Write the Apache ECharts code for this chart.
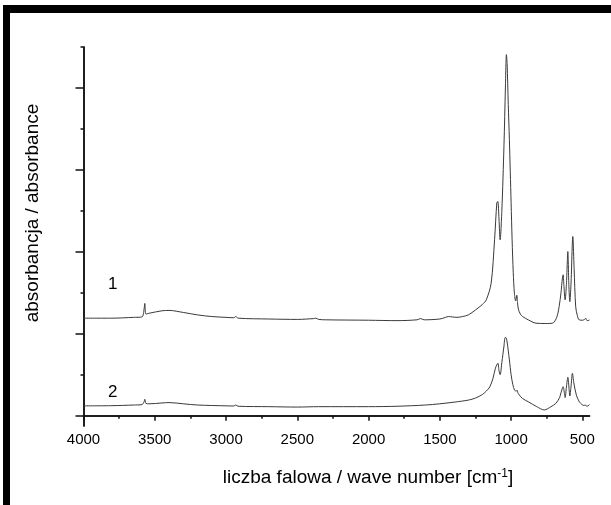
<!DOCTYPE html>
<html><head><meta charset="utf-8">
<script src="https://cdn.jsdelivr.net/npm/echarts@6/dist/echarts.min.js"></script>
<style>html,body{margin:0;padding:0;background:#fff}#c{width:611px;height:505px}</style>
</head><body><div id="c"></div>
<script>
// Spectrum 1 (upper)
const wn1 = [4000,3800,3650,3590,3575,3570,3562,3540,3450,3400,3300,3200,3100,3000,2945,2932,2915,2700,2500,2385,2370,2350,2300,2000,1800,1660,1635,1610,1500,1460,1440,1410,1380,1340,1300,1250,1200,1174,1140,1116,1100,1093,1085,1077,1065,1050,1040,1033,1028,1020,1012,1000,993,985,977,968,960,955,949,935,919,880,826,760,709,680,663,650,640,635,630,621,612,602,595,588,580,567,558,547,535,523,500,485,477,470,460,450];
const abs1 = [1.19,1.19,1.2,1.205,1.3,1.37,1.24,1.25,1.28,1.285,1.26,1.23,1.21,1.2,1.195,1.21,1.19,1.18,1.175,1.185,1.19,1.175,1.17,1.165,1.16,1.17,1.185,1.17,1.18,1.2,1.21,1.205,1.2,1.21,1.23,1.29,1.36,1.414,1.617,2.147,2.6,2.615,2.4,2.147,2.5,3.3,4.0,4.407,4.3,3.8,3.368,2.6,2.147,1.75,1.495,1.4,1.47,1.38,1.3,1.24,1.21,1.17,1.129,1.125,1.129,1.2,1.332,1.5,1.68,1.719,1.6,1.414,1.6,2.004,1.6,1.393,1.6,2.187,1.8,1.33,1.22,1.17,1.165,1.175,1.19,1.165,1.16,1.17];
// Spectrum 2 (lower)
const wn2 = [4000,3800,3650,3590,3575,3570,3562,3540,3450,3400,3300,3200,3000,2945,2932,2915,2700,2500,2350,2000,1800,1600,1500,1400,1300,1250,1200,1174,1150,1128,1110,1093,1085,1077,1065,1050,1042,1035,1028,1012,1000,988,975,962,958,950,920,880,820,767,720,686,660,650,635,625,621,612,602,592,588,580,570,560,542,525,512,490,477,470,460,450];
const abs2 = [0.12,0.122,0.13,0.135,0.17,0.2,0.15,0.145,0.155,0.16,0.145,0.13,0.12,0.118,0.13,0.115,0.11,0.105,0.11,0.11,0.115,0.13,0.145,0.165,0.19,0.215,0.26,0.3,0.35,0.45,0.58,0.64,0.55,0.5,0.65,0.85,0.953,0.95,0.9,0.68,0.5,0.38,0.31,0.3,0.31,0.27,0.21,0.17,0.11,0.07,0.11,0.15,0.22,0.28,0.354,0.26,0.22,0.35,0.469,0.3,0.24,0.35,0.518,0.4,0.25,0.18,0.15,0.125,0.13,0.115,0.12,0.135];
const xMajor = [4000,3500,3000,2500,2000,1500,1000,500];
const xMinor = [3750,3250,2750,2250,1750,1250,750];
const yMajor = [0,1,2,3,4];
const yMinor = [0.5,1.5,2.5,3.5,4.5];
const seriesNames = ['1','2'];

const chart = echarts.init(document.getElementById('c'), null, {renderer:'canvas'});
const FONT = '"Liberation Sans", Arial, sans-serif';
const lineCol = '#111';
const xBase = {type:'value', min:450, max:4000, inverse:true, position:'bottom',
  axisLine:{show:true, lineStyle:{color:lineCol, width:1.5}}, splitLine:{show:false}};
const yBase = {type:'value', min:-0.126, max:4.5, position:'left',
  axisLine:{show:true, lineStyle:{color:lineCol, width:1.5}}, splitLine:{show:false}, axisLabel:{show:false}};
chart.setOption({
  animation:false,
  backgroundColor:'#fff',
  grid:{left:83.5, right:21.5, top:47, bottom:79, containLabel:false},
  xAxis:[
    Object.assign({}, xBase, {
      axisTick:{show:true, inside:false, length:5, customValues:xMajor, lineStyle:{color:lineCol, width:1.5}},
      axisLabel:{show:true, customValues:xMajor, formatter:v=>String(v), color:'#000', fontSize:15, fontFamily:FONT, margin:6}
    }),
    Object.assign({}, xBase, {
      axisTick:{show:true, inside:false, length:3, customValues:xMinor, lineStyle:{color:lineCol, width:1.5}},
      axisLabel:{show:false}
    })
  ],
  yAxis:[
    Object.assign({}, yBase, {
      axisTick:{show:true, inside:false, length:8, customValues:yMajor, lineStyle:{color:lineCol, width:1.5}}
    }),
    Object.assign({}, yBase, {
      axisTick:{show:true, inside:false, length:3, customValues:yMinor, lineStyle:{color:lineCol, width:1.5}}
    })
  ],
  series:[
    {name:seriesNames[0], type:'line', xAxisIndex:0, yAxisIndex:0, showSymbol:false, symbol:'none', smooth:0.3,
     lineStyle:{color:'#3a3a3a', width:1}, data: wn1.map((w,i)=>[w,abs1[i]])},
    {name:seriesNames[1], type:'line', xAxisIndex:0, yAxisIndex:0, showSymbol:false, symbol:'none', smooth:0.3,
     lineStyle:{color:'#3a3a3a', width:1}, data: wn2.map((w,i)=>[w,abs2[i]])}
  ],
  graphic:[
    {type:'rect', shape:{x:3, y:5, width:608, height:8}, style:{fill:'#000'}},
    {type:'rect', shape:{x:3, y:5, width:7, height:500}, style:{fill:'#000'}},
    {type:'text', x:108, y:276, style:{text:seriesNames[0], font:'17px '+FONT, fill:'#000'}},
    {type:'text', x:108, y:384, style:{text:seriesNames[1], font:'17px '+FONT, fill:'#000'}},
    {type:'text', x:33, y:213, rotation:Math.PI/2, style:{text:'absorbancja / absorbance', font:'19px '+FONT, fill:'#000', align:'center', verticalAlign:'middle'}},
    {type:'text', x:368, y:478, style:{
      text:'liczba falowa / wave number [cm{s|-1}]', font:'19px '+FONT, fill:'#000', align:'center', verticalAlign:'middle',
      rich:{s:{fontSize:12, fontFamily:FONT, verticalAlign:'top', padding:[0,0,9,0]}}}}
  ]
});
</script></body></html>
